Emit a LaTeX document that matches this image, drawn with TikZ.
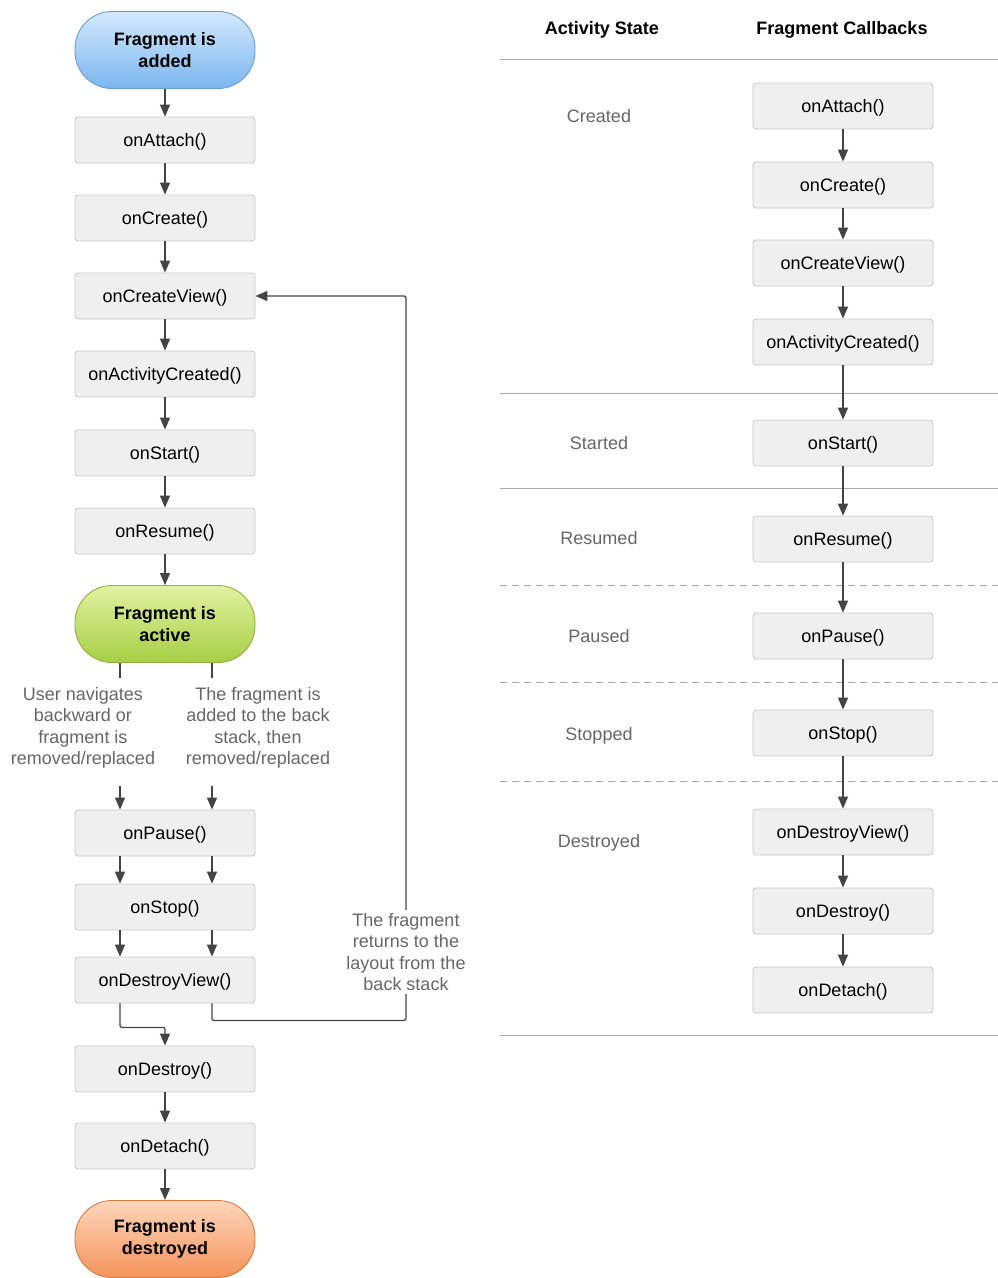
\documentclass[tikz,border=0pt]{standalone}
\usepackage{fontspec}
\setmainfont{Liberation Sans}
\usepackage{tikz}
\usetikzlibrary{calc,arrows.meta}
\definecolor{ink}{HTML}{444444}
\definecolor{boxfill}{HTML}{EFEFEF}
\definecolor{boxline}{HTML}{C8C8C8}
\definecolor{muted}{HTML}{666666}
\definecolor{rule}{HTML}{A9A9A9}
\definecolor{blueT}{HTML}{D3E9FD}
\definecolor{blueB}{HTML}{7BB6EF}
\definecolor{blueL}{HTML}{6B9FD4}
\definecolor{greenT}{HTML}{E2F1A0}
\definecolor{greenB}{HTML}{A6CF45}
\definecolor{greenL}{HTML}{8DB43C}
\definecolor{orangeT}{HTML}{FDD6BA}
\definecolor{orangeB}{HTML}{F4935A}
\definecolor{orangeL}{HTML}{D87D48}
\tikzset{
  txt/.style={font=\fontsize{18}{21.5}\selectfont},
  cb/.style={txt, draw=boxline, fill=boxfill, rounded corners=3pt, line width=0.8pt,
    minimum width=180pt, minimum height=46pt, inner sep=0pt, text height=13pt, text depth=0pt},
  pill/.style={txt, font=\fontsize{18}{21.5}\selectfont\bfseries, align=center,
    rounded corners=37pt, line width=0.9pt, minimum width=180pt, minimum height=77pt},
  wire/.style={draw=ink, line width=1.3pt, rounded corners=2pt},
  arr/.style={wire, -{Triangle[width=10pt,length=12pt]}},
  notetxt/.style={txt, text=muted, align=center, inner sep=3pt},
  statelbl/.style={txt, text=muted},
  hdr/.style={font=\fontsize{18}{21.5}\selectfont\bfseries},
  rowline/.style={draw=rule, line width=1pt},
  rowdash/.style={rowline, dash pattern=on 7pt off 5pt},
}
\begin{document}
\begin{tikzpicture}[x=1pt,y=-1pt]
  \useasboundingbox (0,0) rectangle (998,1278);
  % left: fragment lifecycle
  \node[pill, top color=blueT, bottom color=blueB, draw=blueL] (added) at (165,50) {Fragment is\\added};
  \node[cb] (attachL) at (165,140) {onAttach()};
  \node[cb] (createL) at (165,218) {onCreate()};
  \node[cb] (viewL) at (165,296) {onCreateView()};
  \node[cb] (actL) at (165,374) {onActivityCreated()};
  \node[cb] (startL) at (165,453) {onStart()};
  \node[cb] (resumeL) at (165,531) {onResume()};
  \node[pill, top color=greenT, bottom color=greenB, draw=greenL] (active) at (165,624) {Fragment is\\active};
  \node[notetxt] (backTxt) at (83,728) {User navigates\\backward or\\fragment is\\removed/replaced};
  \node[notetxt] (stackTxt) at (258,728) {The fragment is\\added to the back\\stack, then\\removed/replaced};
  \node[cb] (pauseL) at (165,833) {onPause()};
  \node[cb] (stopL) at (165,907) {onStop()};
  \node[cb] (dviewL) at (165,980) {onDestroyView()};
  \node[cb] (destroyL) at (165,1069) {onDestroy()};
  \node[cb] (detachL) at (165,1146) {onDetach()};
  \node[pill, top color=orangeT, bottom color=orangeB, draw=orangeL] (destroyed) at (165,1239) {Fragment is\\destroyed};
  \node[notetxt] (returnTxt) at (406,952) {The fragment\\returns to the\\layout from the\\back stack};
  \coordinate (laneA) at (120,0);
  \coordinate (laneB) at (212,0);
  \draw[arr] (added) -- (attachL);
  \draw[arr] (attachL) -- (createL);
  \draw[arr] (createL) -- (viewL);
  \draw[arr] (viewL) -- (actL);
  \draw[arr] (actL) -- (startL);
  \draw[arr] (startL) -- (resumeL);
  \draw[arr] (resumeL) -- (active);
  \draw[wire] (active.south -| laneA) -- ++(0,15);
  \draw[wire] (active.south -| laneB) -- ++(0,15);
  \draw[arr] ($(pauseL.north -| laneA)+(0,-24)$) -- (pauseL.north -| laneA);
  \draw[arr] ($(pauseL.north -| laneB)+(0,-24)$) -- (pauseL.north -| laneB);
  \draw[arr] (pauseL.south -| laneA) -- (stopL.north -| laneA);
  \draw[arr] (pauseL.south -| laneB) -- (stopL.north -| laneB);
  \draw[arr] (stopL.south -| laneA) -- (dviewL.north -| laneA);
  \draw[arr] (stopL.south -| laneB) -- (dviewL.north -| laneB);
  \draw[arr] (dviewL.south -| laneA) -- ++(0,24) -| (destroyL.north);
  \draw[wire] (dviewL.south -| laneB) -- ++(0,17) -| (returnTxt.south);
  \draw[arr] (returnTxt.north) |- (viewL.east);
  \draw[arr] (destroyL) -- (detachL);
  \draw[arr] (detachL) -- (destroyed);
  % right: activity state table
  \node[hdr] (hdrState) at (602,30) {Activity State};
  \node[hdr] (hdrCb) at (842,30) {Fragment Callbacks};
  \draw[rowline] (500,59) -- (998,59);
  \draw[rowline] (500,393) -- (998,393);
  \draw[rowline] (500,488) -- (998,488);
  \draw[rowdash] (500,585) -- (998,585);
  \draw[rowdash] (500,682) -- (998,682);
  \draw[rowdash] (500,781) -- (998,781);
  \draw[rowline] (500,1035) -- (998,1035);
  \node[statelbl] (stCreated) at (599,116) {Created};
  \node[statelbl] (stStarted) at (599,443) {Started};
  \node[statelbl] (stResumed) at (599,538) {Resumed};
  \node[statelbl] (stPaused) at (599,636) {Paused};
  \node[statelbl] (stStopped) at (599,736) {Stopped};
  \node[statelbl] (stDestroyed) at (599,843) {Destroyed};
  \node[cb] (attachR) at (843,106) {onAttach()};
  \node[cb] (createR) at (843,185) {onCreate()};
  \node[cb] (viewR) at (843,263) {onCreateView()};
  \node[cb] (actR) at (843,342) {onActivityCreated()};
  \node[cb] (startR) at (843,443) {onStart()};
  \node[cb] (resumeR) at (843,539) {onResume()};
  \node[cb] (pauseR) at (843,636) {onPause()};
  \node[cb] (stopR) at (843,733) {onStop()};
  \node[cb] (dviewR) at (843,832) {onDestroyView()};
  \node[cb] (destroyR) at (843,911) {onDestroy()};
  \node[cb] (detachR) at (843,990) {onDetach()};
  \draw[arr] (attachR) -- (createR);
  \draw[arr] (createR) -- (viewR);
  \draw[arr] (viewR) -- (actR);
  \draw[arr] (actR) -- (startR);
  \draw[arr] (startR) -- (resumeR);
  \draw[arr] (resumeR) -- (pauseR);
  \draw[arr] (pauseR) -- (stopR);
  \draw[arr] (stopR) -- (dviewR);
  \draw[arr] (dviewR) -- (destroyR);
  \draw[arr] (destroyR) -- (detachR);
\end{tikzpicture}
\end{document}
